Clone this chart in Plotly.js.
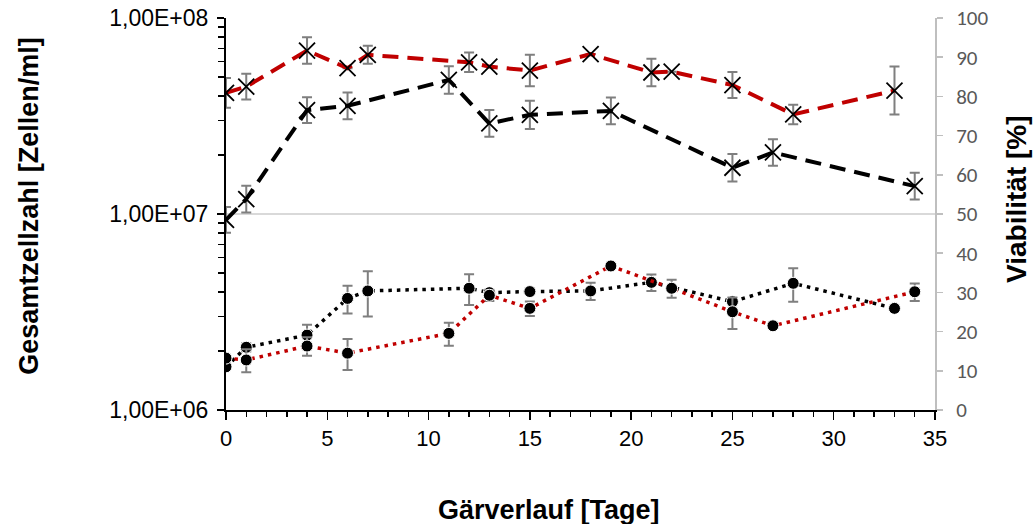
<!DOCTYPE html>
<html>
<head>
<meta charset="utf-8">
<script src="https://cdn.plot.ly/plotly-3.0.1.min.js"></script>
<style>html,body{margin:0;padding:0;background:#fff;}#chart{width:1036px;height:524px;}</style>
</head>
<body>
<div id="chart"></div>
<script>
// Viability (right axis, %)
const viabRedDays = [0, 1, 4, 6, 7, 12, 13, 15, 18, 21, 22, 25, 28, 33];
const viabRed     = [80.9, 82.5, 91.7, 87.2, 90.6, 88.7, 87.6, 86.6, 90.8, 86.1, 86.3, 82.9, 75.4, 81.5];
const viabRedErr  = [3.8, 3.3, 3.4, 0, 2.3, 2.5, 0, 4.0, 0, 3.5, 0, 3.3, 2.5, 6.1];

const viabBlackDays = [0, 1, 4, 6, 11, 13, 15, 19, 25, 27, 34];
const viabBlack     = [48.5, 53.8, 76.5, 77.6, 84.2, 73.1, 75.3, 76.3, 61.8, 65.7, 57.1];
const viabBlackErr  = [3.3, 3.4, 3.3, 3.4, 3.5, 3.4, 3.6, 3.4, 3.5, 3.4, 3.4];

// Total cell count (left axis, cells/ml)
const cellBlackDays = [0, 1, 4, 6, 7, 12, 13, 15, 18, 21, 25, 28, 33];
const cellBlack     = [1.66e6, 2.09e6, 2.41e6, 3.71e6, 4.05e6, 4.18e6, 3.97e6, 4.02e6, 4.05e6, 4.48e6, 3.57e6, 4.43e6, 3.30e6];
const cellBlackErr  = [0, 0.1e6, 0.31e6, 0.6e6, 1.05e6, 0.75e6, 0, 0, 0.41e6, 0.43e6, 0, 0.86e6, 0];

const cellRedDays = [0, 1, 4, 6, 11, 13, 15, 19, 22, 25, 27, 34];
const cellRed     = [1.84e6, 1.80e6, 2.12e6, 1.95e6, 2.46e6, 3.85e6, 3.30e6, 5.43e6, 4.18e6, 3.17e6, 2.69e6, 4.01e6];
const cellRedErr  = [0, 0.24e6, 0.23e6, 0.35e6, 0.33e6, 0.25e6, 0.28e6, 0, 0.44e6, 0.58e6, 0, 0.41e6];

const leftTickVals = [1e6, 1e7, 1e8];
const leftTickText = ['1,00E+06', '1,00E+07', '1,00E+08'];
const leftMinorVals = [2e6,3e6,4e6,5e6,6e6,7e6,8e6,9e6,2e7,3e7,4e7,5e7,6e7,7e7,8e7,9e7];

const errStyle = (arr) => ({type: 'data', array: arr, visible: true, color: '#7f7f7f', thickness: 2, width: 5});

const xMarker = {symbol: 'x-thin-open', size: 16, color: '#000', line: {color: '#000', width: 1.8}};
const dotMarker = {symbol: 'circle', size: 12, color: '#000', line: {color: '#fff', width: 1}};

const traces = [
  {x: viabRedDays, y: viabRed, yaxis: 'y2', mode: 'lines+markers', type: 'scatter',
   line: {color: '#c00000', width: 4, dash: '16px,9px'}, marker: xMarker, error_y: errStyle(viabRedErr)},
  {x: viabBlackDays, y: viabBlack, yaxis: 'y2', mode: 'lines+markers', type: 'scatter',
   line: {color: '#000', width: 4, dash: '16px,9px'}, marker: xMarker, error_y: errStyle(viabBlackErr)},
  {x: cellBlackDays, y: cellBlack, yaxis: 'y', mode: 'lines+markers', type: 'scatter',
   line: {color: '#000', width: 3.5, dash: '3.5px,5px'}, marker: dotMarker, error_y: errStyle(cellBlackErr)},
  {x: cellRedDays, y: cellRed, yaxis: 'y', mode: 'lines+markers', type: 'scatter',
   line: {color: '#c00000', width: 3.5, dash: '3.5px,5px'}, marker: dotMarker, error_y: errStyle(cellRedErr)}
];

const layout = {
  width: 1036, height: 524,
  margin: {l: 226, r: 101, t: 18, b: 114},
  paper_bgcolor: '#fff', plot_bgcolor: '#fff',
  showlegend: false,
  xaxis: {
    range: [0, 35], dtick: 5, tick0: 0, showgrid: false, zeroline: false,
    showline: true, linecolor: '#000', linewidth: 2,
    ticks: 'outside', ticklen: 8, tickwidth: 1.5, tickcolor: '#000',
    minor: {dtick: 1, ticks: 'outside', ticklen: 5, tickwidth: 1.5, tickcolor: '#000', showgrid: false},
    tickfont: {family: 'Liberation Sans, Arial, sans-serif', size: 22, color: '#000'},
    anchor: 'y'
  },
  yaxis: {
    type: 'log', range: [6, 8], tickmode: 'array', tickvals: leftTickVals, ticktext: leftTickText,
    showgrid: true, gridcolor: '#d9d9d9', gridwidth: 1.5, zeroline: false,
    showline: true, linecolor: '#000', linewidth: 2,
    ticks: 'outside', ticklen: 7, tickwidth: 1.5, tickcolor: '#000',
    minor: {tickmode: 'array', tickvals: leftMinorVals, ticks: 'outside', ticklen: 6, tickwidth: 1.5, tickcolor: '#000', showgrid: false},
    tickfont: {family: 'Liberation Sans, Arial, sans-serif', size: 23, color: '#000'},
    ticklabelstandoff: 4
  },
  yaxis2: {
    overlaying: 'y', side: 'right', range: [0, 100], dtick: 10, tick0: 0,
    showgrid: false, zeroline: false,
    showline: true, linecolor: '#bfbfbf', linewidth: 2,
    ticks: 'outside', ticklen: 6, tickwidth: 1.5, tickcolor: '#bfbfbf',
    tickfont: {family: 'Carlito, Lato, sans-serif', size: 21, color: '#595959'},
    ticklabelstandoff: 9
  },
  annotations: [
    {text: 'Gärverlauf [Tage]', xref: 'paper', yref: 'paper', x: 0.455, y: -0.255, xanchor: 'center', yanchor: 'middle',
     showarrow: false, font: {family: 'Liberation Sans, Arial, sans-serif', size: 27, color: '#000', weight: 'bold'}},
    {text: 'Gesamtzellzahl [Zellen/ml]', xref: 'paper', yref: 'paper', x: -0.277, y: 0.52, xanchor: 'center', yanchor: 'middle',
     textangle: -90, showarrow: false, font: {family: 'Liberation Sans, Arial, sans-serif', size: 27, color: '#000', weight: 'bold'}},
    {text: 'Viabilität [%]', xref: 'paper', yref: 'paper', x: 1.114, y: 0.538, xanchor: 'center', yanchor: 'middle',
     textangle: -90, showarrow: false, font: {family: 'Liberation Sans, Arial, sans-serif', size: 28, color: '#000', weight: 'bold'}}
  ]
};

Plotly.newPlot('chart', traces, layout, {staticPlot: true, displayModeBar: false});
</script>
</body>
</html>
